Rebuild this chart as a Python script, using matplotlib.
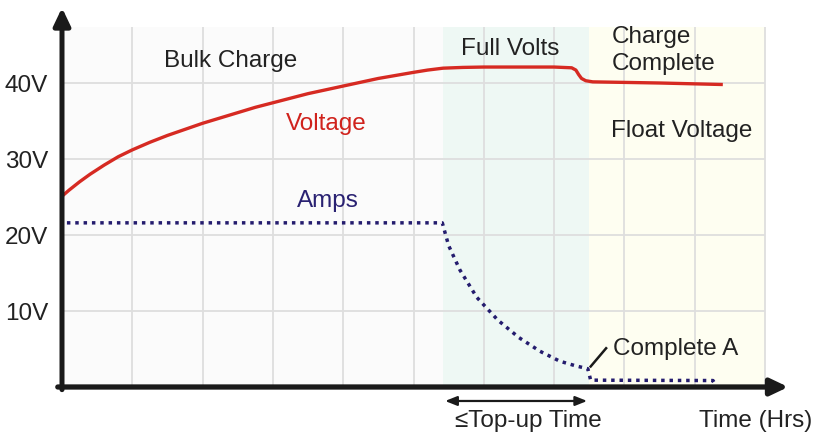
import numpy as np
import matplotlib
matplotlib.use("Agg")
from matplotlib import pyplot as plt

plt.rcParams['font.family'] = ['Liberation Sans', 'DejaVu Sans']

# charge profile (time in hrs, value in V-scale units)
volt_t = [0, 0.1, 0.25, 0.4, 0.6, 0.8, 1.0, 1.25, 1.5, 1.75, 2.0, 2.25, 2.5, 2.75,
          3.0, 3.25, 3.5, 3.75, 4.0, 4.25, 4.5, 4.75, 5.0, 5.2, 5.42, 5.7,
          6.0, 7.0, 7.25, 7.31, 7.35, 7.39, 7.45, 7.55, 8.5, 9.4]
volt_v = [25.1, 25.9, 27.0, 28.0, 29.2, 30.3, 31.2, 32.2, 33.1, 33.9, 34.7, 35.4, 36.1, 36.8,
          37.4, 38.0, 38.6, 39.1, 39.6, 40.1, 40.6, 41.0, 41.4, 41.7, 41.95, 42.05,
          42.1, 42.1, 42.0, 41.7, 41.1, 40.6, 40.3, 40.15, 40.0, 39.8]
amps_t = [0.07, 5.41, 5.5, 5.66, 5.9, 6.2, 6.5, 6.8, 7.08, 7.3, 7.48, 7.52, 9.26, 9.29]
amps_v = [21.6, 21.6, 18.6, 15.4, 11.8, 8.8, 6.5, 4.7, 3.4, 2.8, 2.4, 0.9, 0.85, 0.4]

ytick_vals = [10, 20, 30, 40]
ytick_labels = ["10V", "20V", "30V", "40V"]
grid_x = [1, 2, 3, 4, 5, 6, 7, 8, 9, 10]

# phase boundaries (hrs)
bulk_end = 5.42
full_end = 7.5
float_end = 10.0
top = 47.4

fig = plt.figure(figsize=(8.17, 4.34), dpi=100)
ax = fig.add_axes([62/817, 47/434, 738/817, 387/434])
ax.set_xlim(0, 738/70.3)
ax.set_ylim(0, 387/7.6)
for s in ax.spines.values():
    s.set_visible(False)
ax.set_xticks([])
ax.set_yticks(ytick_vals)
ax.set_yticklabels(ytick_labels, fontsize=17.5, color='#222222')
ax.tick_params(axis='y', length=0, pad=10)

# phase backgrounds
ax.fill_between([0, bulk_end], 0, top, color='#fbfbfb', lw=0, zorder=0)
ax.fill_between([bulk_end, full_end], 0, top, color='#eef8f4', lw=0, zorder=0)
ax.fill_between([full_end, float_end], 0, top, color='#fefef1', lw=0, zorder=0)

# grid
ax.vlines(grid_x, 0, top, color='#dedede', lw=1.3, zorder=1)
ax.hlines(ytick_vals, 0, float_end, color='#dedede', lw=1.3, zorder=1)

# curves
ax.plot(volt_t, volt_v, color='#d62a22', lw=2.4, zorder=3, solid_capstyle='butt',
        solid_joinstyle='round')
ax.plot(amps_t, amps_v, color='#241c6e', lw=2.5, ls=(0, (1, 1.4)), zorder=3)

# axes with arrow heads
ax.annotate('', xy=(0, 49.9), xytext=(0, -0.35), annotation_clip=False,
            arrowprops=dict(arrowstyle='-|>,head_length=0.42,head_width=0.2',
                            mutation_scale=25, lw=3.6, color='#1a1a1a',
                            shrinkA=0, shrinkB=0), zorder=5)
ax.annotate('', xy=(10.33, 0), xytext=(-0.06, 0), annotation_clip=False,
            arrowprops=dict(arrowstyle='-|>,head_length=0.42,head_width=0.2',
                            mutation_scale=25, lw=3.8, color='#1a1a1a',
                            shrinkA=0, shrinkB=0), zorder=5)

# top-up time span
ax.annotate('', xy=(7.47, -1.84), xytext=(5.45, -1.84), annotation_clip=False,
            arrowprops=dict(arrowstyle='<|-|>,head_length=0.5,head_width=0.2',
                            mutation_scale=14, lw=1.6, color='#1a1a1a',
                            shrinkA=0, shrinkB=0))

# leader for "Complete A"
ax.plot([7.52, 7.74], [2.7, 5.1], color='#1a1a1a', lw=1.8, zorder=4)

tc = '#222222'
fs = 17.5
ax.text(2.4, 42.1, "Bulk Charge", fontsize=fs, color=tc, ha='center', va='baseline')
ax.text(6.37, 43.7, "Full Volts", fontsize=fs, color=tc, ha='center', va='baseline')
ax.text(7.82, 45.3, "Charge", fontsize=fs, color=tc, ha='left', va='baseline')
ax.text(7.82, 41.7, "Complete", fontsize=fs, color=tc, ha='left', va='baseline')
ax.text(7.81, 32.9, "Float Voltage", fontsize=fs, color=tc, ha='left', va='baseline')
ax.text(3.76, 33.8, "Voltage", fontsize=fs, color='#d0221c', ha='center', va='baseline')
ax.text(3.78, 23.7, "Amps", fontsize=fs, color='#2a2272', ha='center', va='baseline')
ax.text(7.84, 4.2, "Complete A", fontsize=fs, color=tc, ha='left', va='baseline')
ax.text(6.64, -5.26, "\u2264Top-up Time", fontsize=fs, color=tc, ha='center',
        va='baseline', clip_on=False)
ax.text(9.86, -5.26, "Time (Hrs)", fontsize=fs, color=tc, ha='center',
        va='baseline', clip_on=False)

fig.savefig("out.png", dpi=100)
